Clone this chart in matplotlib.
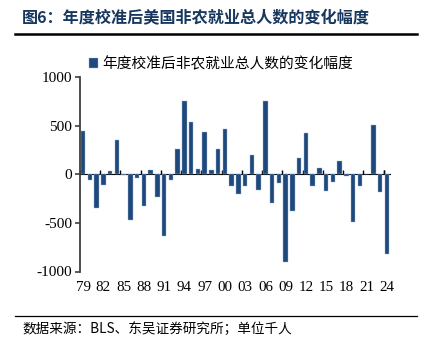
import matplotlib
matplotlib.use("Agg")
import matplotlib.pyplot as plt
from matplotlib.lines import Line2D

plt.rcParams['font.family'] = ['Noto Sans CJK SC', 'DejaVu Sans']

years = list(range(1979, 2025))
year_labels = [f"{y % 100:02d}" for y in years]
values = [446, -63, -349, -111, 34, 354, -3, -467, -38, -328, 44, -229,
          -639, -58, 263, 749, 542, 58, 432, 44, 258, 468, -120, -202,
          -120, 202, -157, 752, -291, -85, -898, -377, 164, 424, -117, 68,
          -171, -79, 133, -14, -489, -116, 0, 506, -185, -821]
series_name = "年度校准后非农就业总人数的变化幅度"
title_text = "图6：年度校准后美国非农就业总人数的变化幅度"
source_text = "数据来源：BLS、东吴证券研究所；单位千人"
yticks = [-1000, -500, 0, 500, 1000]

W, H = 430, 338
fig = plt.figure(figsize=(W / 100, H / 100), dpi=100)

def fx(px):
    return px / W

def fy(py):
    return 1 - py / H

bar_color = '#1F497D'
navy = '#17375E'

ax = fig.add_axes([fx(79.8), fy(271.5), fx(390.3) - fx(79.8), fy(77) - fy(271.5)])
x = list(range(len(years)))
ax.bar(x, values, width=0.66, color=bar_color, edgecolor='#9DB3D0', linewidth=0.3,
       label=series_name, zorder=2)
ax.set_xlim(-0.5, len(years) - 0.5)
ax.set_ylim(-1000, 1000)

for s in ['top', 'right', 'bottom']:
    ax.spines[s].set_visible(False)
ax.spines['left'].set_color('#404040')
ax.spines['left'].set_linewidth(1.3)

ax.set_yticks(yticks)
ax.set_yticklabels([str(v) for v in yticks], fontfamily='Liberation Serif', fontsize=11)
ax.tick_params(axis='y', direction='out', length=3.5, width=1.2, color='#404040', pad=2)

ax.set_xticks(x[::3])
ax.set_xticklabels(year_labels[::3], fontfamily='Liberation Serif', fontsize=10.8)
ax.tick_params(axis='x', length=0, pad=7)

sec = ax.secondary_xaxis(0.5)
sec.set_xticks([i - 0.5 for i in x[::3]] + [len(years) - 1.5])
sec.set_xticklabels([])
sec.tick_params(axis='x', direction='out', length=3, width=1.0, color='black')
sec.spines['bottom'].set_color('black')
sec.spines['bottom'].set_linewidth(1.3)

leg = ax.legend(loc='center left', bbox_to_anchor=(fx(76), fy(64)),
                bbox_transform=fig.transFigure, frameon=False,
                handlelength=0.6, handleheight=0.6, handletextpad=0.3,
                prop={'family': ['Noto Sans CJK SC', 'DejaVu Sans'], 'size': 10.6})

fig.text(fx(22), fy(18), title_text, fontsize=11.6, fontweight='bold', color=navy,
         va='center', ha='left')
fig.add_artist(Line2D([fx(15), fx(417)], [fy(34), fy(34)], color='black', lw=1.8,
                      transform=fig.transFigure))
fig.add_artist(Line2D([fx(15), fx(417)], [fy(316), fy(316)], color='black', lw=0.9,
                      transform=fig.transFigure))
fig.text(fx(22), fy(329), source_text, fontsize=9.8, color='black', va='center', ha='left',
         family=['Noto Sans CJK SC', 'DejaVu Sans'])

fig.savefig('out.png', dpi=100)
